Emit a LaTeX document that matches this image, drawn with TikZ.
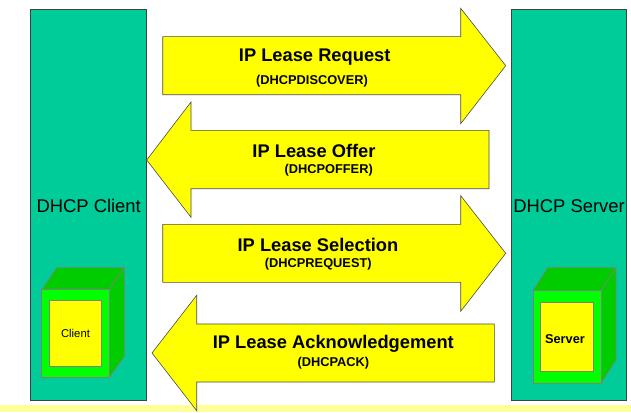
\documentclass[tikz,border=0pt]{standalone}
\usepackage{fontspec}
\setmainfont{Liberation Sans}
\usepackage{tikz}
\usetikzlibrary{positioning}
\definecolor{tealbox}{HTML}{00CC99}
\definecolor{darkgreen}{HTML}{00CC00}
\definecolor{lightgreen}{HTML}{00FF00}
\definecolor{arrowyellow}{HTML}{FFFF00}
\definecolor{footband}{HTML}{FFFF99}
\tikzset{
    host/.style={draw=black!75, line width=0.7pt, fill=tealbox},
    leasearrow/.style={draw=black!70, line width=0.6pt, fill=arrowyellow, line join=miter},
    casefront/.style={draw=gray, line width=0.7pt, fill=lightgreen},
    caseside/.style={draw=gray, line width=0.7pt, fill=darkgreen},
    casepanel/.style={draw=gray, line width=0.7pt, fill=arrowyellow},
    hostlabel/.style={font=\fontsize{18.4}{20}\selectfont, inner sep=0pt, yshift=-0.5pt},
    leaselabel/.style={font=\fontsize{18.3}{20}\bfseries\selectfont, inner sep=0pt, yshift=-1pt},
    msglabel/.style={font=\fontsize{12.8}{14}\bfseries\selectfont, inner sep=0pt, yshift=-1pt},
}

\begin{document}
\begin{tikzpicture}[x=1pt,y=-1pt]
\useasboundingbox (0,0) rectangle (631,412);

\fill [footband] (0,404.5) rectangle (631,412);

\draw [host] (30.5,9.5) rectangle (146.5,400);
\draw [host] (511,9.5) rectangle (626.7,400);

% request
\draw [leasearrow] (162.7,36.7) -- (460.7,36.7) -- (460.7,8.3) -- (505.7,65.7) -- (460.7,123.7) -- (460.7,94.7) -- (162.7,94.7) -- cycle;
% offer
\draw [leasearrow] (489,130.3) -- (191,130.3) -- (191,102) -- (146.7,160) -- (191,217.3) -- (191,188.7) -- (489,188.7) -- cycle;
% selection
\draw [leasearrow] (162.7,224.3) -- (460.7,224.3) -- (460.7,195.7) -- (505.7,253.3) -- (460.7,311.3) -- (460.7,282.3) -- (162.7,282.3) -- cycle;
% acknowledgement
\draw [leasearrow] (494.3,324) -- (196.7,324) -- (196.7,295.3) -- (152,353) -- (196.7,410.7) -- (196.7,382) -- (494.3,382) -- cycle;

\node [leaselabel] at (314.7,55.7) (request) {IP Lease Request};
\node [msglabel] at (312,79.7) (discover) {(DHCPDISCOVER)};
\node [leaselabel] at (314,150) (offer) {IP Lease Offer};
\node [msglabel] at (328.7,168.7) (dhcpoffer) {(DHCPOFFER)};
\node [leaselabel] at (318,244) (selection) {IP Lease Selection};
\node [msglabel] at (318.3,262.7) (dhcprequest) {(DHCPREQUEST)};
\node [leaselabel] at (333.3,342.7) (ack) {IP Lease Acknowledgement};
\node [msglabel] at (333.3,361.7) (dhcpack) {(DHCPACK)};

\node [hostlabel] at (88.7,205.3) (clientname) {DHCP Client};
\node [hostlabel] at (569,205.3) (servername) {DHCP Server};

% client box
\draw [caseside] (41.7,289.7) -- (56.7,267.7) -- (124.3,267.7) -- (109.3,289.7) -- cycle;
\draw [caseside] (109.3,289.7) -- (124.3,267.7) -- (124.3,356.7) -- (109.3,377.3) -- cycle;
\draw [casefront] (41.7,289.7) rectangle (109.3,377.3);
\draw [casepanel] (49.7,300.7) rectangle (101.7,366.7);
\node [font=\fontsize{11.3}{13}\selectfont, inner sep=0pt] at (75.5,333.5) (clientbox) {Client};

% server box
\draw [caseside] (533,290.7) -- (547.7,267.7) -- (616,267.7) -- (601,290.7) -- cycle;
\draw [caseside] (601,290.7) -- (616,267.7) -- (616,360) -- (601,383.3) -- cycle;
\draw [casefront] (533,290.7) rectangle (601,383.3);
\draw [casepanel] (540.7,302.3) rectangle (593.3,371.7);
\node [msglabel] at (565,338.5) (serverbox) {Server};

\end{tikzpicture}
\end{document}
